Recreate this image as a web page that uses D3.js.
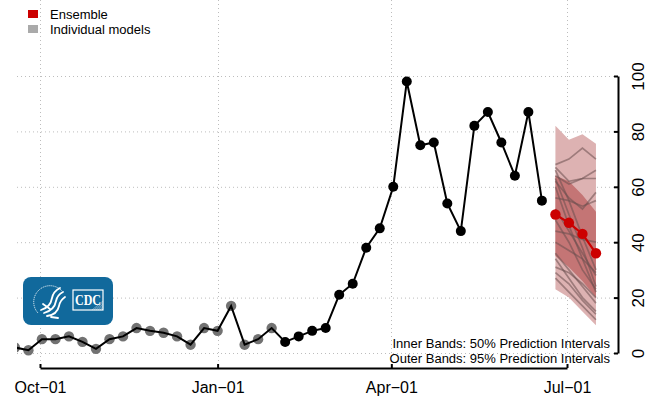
<!DOCTYPE html>
<html><head><meta charset="utf-8">
<script src="https://cdn.jsdelivr.net/npm/d3@7"></script>
<style>body{margin:0;background:#fff}svg{display:block;font-family:"Liberation Sans",Arial,sans-serif}</style>
</head><body><svg id="c" width="656" height="402"></svg>
<script>
// ---------- data ----------
const obsDates = ["2021-09-18","2021-09-25","2021-10-02","2021-10-09","2021-10-16","2021-10-23","2021-10-30",
 "2021-11-06","2021-11-13","2021-11-20","2021-11-27","2021-12-04","2021-12-11","2021-12-18","2021-12-25",
 "2022-01-01","2022-01-08","2022-01-15","2022-01-22","2022-01-29","2022-02-05","2022-02-12","2022-02-19","2022-02-26",
 "2022-03-05","2022-03-12","2022-03-19","2022-03-26","2022-04-02","2022-04-09","2022-04-16","2022-04-23","2022-04-30",
 "2022-05-07","2022-05-14","2022-05-21","2022-05-28","2022-06-04","2022-06-11","2022-06-18"];
const obsValues = [2,1,5,5,6,4,1.5,5,6,9,8,7.3,6,3,9,8,17,3,5,9,4,6,8,9,21,25,38,45,60,98,75,76,54,44,82,87,76,64,87,55];
const lastRevisedDate = "2022-01-29"; // points up to this date drawn grey

const fcDates = ["2022-06-25","2022-07-02","2022-07-09","2022-07-16"];
const ensemble = [50,47,43,36];
const q95lo = [23,20,15,10];
const q95hi = [82,77,79,75.5];
const q50lo = [35,31,26,20];
const q50hi = [64,62,57,51];
const models = [
 [68,70,74,70],[67,62,63,66],[64,61,63,63],[62,56,52,58],[56,55,53,55],
 [66,55,42,30],[63,50,38,24],[60,46,34,22],[52,44,36,28],[44,43,41,40],
 [40,37,34,29],[36,30,24,18],[31,29,25,20],[29,25,19,14],[27,22,17,12],
 [34,27,20,15],[48,40,30,23]
];
const xTickDates = ["2021-10-01","2022-01-01","2022-04-01","2022-07-01"];
const xTickLabels = ["Oct\u221201","Jan\u221201","Apr\u221201","Jul\u221201"];
const yTicks = [0,20,40,60,80,100];
const legendLabels = ["Ensemble","Individual models"];
const noteLines = ["Inner Bands: 50% Prediction Intervals","Outer Bands: 95% Prediction Intervals"];

// ---------- scales ----------
const P = d3.utcParse("%Y-%m-%d");
const svg = d3.select("#c");
const x = d3.scaleUtc().domain([P(xTickDates[0]), P(xTickDates[3])]).range([40, 567]);
const y = d3.scaleLinear().domain([0,100]).range([353, 76]);
const plotLeft = 17, plotRight = 617;

svg.append("defs").append("clipPath").attr("id","clip")
  .append("rect").attr("x",plotLeft).attr("y",0).attr("width",plotRight-plotLeft).attr("height",370);

// grid
const grid = svg.append("g").attr("stroke","#bdbdbd").attr("stroke-width",1).attr("stroke-dasharray","1,3");
grid.selectAll("line.h").data(yTicks).join("line")
  .attr("x1",plotLeft).attr("x2",plotRight).attr("y1",d=>y(d)+0.5).attr("y2",d=>y(d)+0.5);
grid.selectAll("line.v").data(xTickDates).join("line")
  .attr("x1",d=>Math.round(x(P(d)))+0.5).attr("x2",d=>Math.round(x(P(d)))+0.5).attr("y1",0).attr("y2",362);

// legend
const leg = svg.append("g");
const legColors = ["#cc0000","#aaaaaa"];
legendLabels.forEach((t,i)=>{
  leg.append("rect").attr("x",28).attr("y",10+i*15).attr("width",10).attr("height",8).attr("fill",legColors[i]);
  leg.append("text").attr("x",50).attr("y",19+i*15).attr("font-size",13).attr("fill","#000").text(t);
});

// CDC logo
const logo = svg.append("g");
logo.append("rect").attr("x",23).attr("y",277).attr("width",90).attr("height",48).attr("rx",8).attr("fill","#11699c");
logo.append("path").attr("d","M 38 313 A 14 14 0 1 1 62 291").attr("fill","none").attr("stroke","#fff")
  .attr("stroke-width",1).attr("stroke-dasharray","1.2,0.8").attr("opacity",0.85);
const eagle = logo.append("g").attr("fill","none").attr("stroke","#fff").attr("stroke-width",1.8).attr("stroke-linecap","round");
eagle.append("path").attr("d","M 41 310 C 48 308, 51 304, 52 298 C 53 293, 56 290, 60 288");
eagle.append("path").attr("d","M 44 313 C 51 311, 55 307, 56 301 C 57 296, 59 294, 63 292");
eagle.append("path").attr("d","M 47 316 C 54 315, 58 311, 59 306 C 60 301, 62 299, 65 297");
eagle.append("path").attr("d","M 43 304 L 50 309 M 51 317 L 58 318");
logo.append("rect").attr("x",73).attr("y",290).attr("width",30).attr("height",20).attr("fill","none").attr("stroke","#fff").attr("stroke-width",1.2);
const stripes = logo.append("g").attr("stroke","#fff").attr("stroke-width",0.5).attr("opacity",0.8);
[0,1,2,3,4,5].forEach(i=>stripes.append("line").attr("x1",92+i*2).attr("y1",310).attr("x2",103).attr("y2",301+i*1.6));
logo.append("text").attr("x",88).attr("y",305).attr("text-anchor","middle")
  .attr("font-family","'Liberation Serif','DejaVu Serif',serif").attr("font-weight","bold").attr("font-size",14)
  .attr("fill","#fff").attr("textLength",26).attr("lengthAdjust","spacingAndGlyphs").text("CDC");

// forecast bands
const fc = fcDates.map((d,i)=>({d:P(d),e:ensemble[i],lo95:q95lo[i],hi95:q95hi[i],lo50:q50lo[i],hi50:q50hi[i]}));
const plot = svg.append("g").attr("clip-path","url(#clip)");
plot.append("path").datum(fc).attr("fill","#ddb2b2")
  .attr("d",d3.area().x(d=>x(d.d)).y0(d=>y(d.lo95)).y1(d=>y(d.hi95)));
plot.append("path").datum(fc).attr("fill","#c47575")
  .attr("d",d3.area().x(d=>x(d.d)).y0(d=>y(d.lo50)).y1(d=>y(d.hi50)));
const ml = d3.line().x((d,i)=>x(P(fcDates[i]))).y(d=>y(d));
plot.selectAll("path.model").data(models).join("path").attr("class","model")
  .attr("fill","none").attr("stroke","#6a4e4e").attr("stroke-opacity",0.55).attr("stroke-width",1.7)
  .attr("d",ml);

// observed
const obs = obsDates.map((d,i)=>({d:P(d),v:obsValues[i],g:P(d)<=P(lastRevisedDate)}));
plot.selectAll("circle.g").data(obs.filter(o=>o.g)).join("circle")
  .attr("cx",d=>x(d.d)).attr("cy",d=>y(d.v)).attr("r",5.2).attr("fill","#727272");
plot.append("path").datum(obs).attr("fill","none").attr("stroke","#000").attr("stroke-width",2)
  .attr("d",d3.line().x(d=>x(d.d)).y(d=>y(d.v)));
plot.selectAll("circle.b").data(obs.filter(o=>!o.g)).join("circle")
  .attr("cx",d=>x(d.d)).attr("cy",d=>y(d.v)).attr("r",5).attr("fill","#000");

// ensemble
plot.append("path").datum(fc).attr("fill","none").attr("stroke","#cc0000").attr("stroke-width",2.2)
  .attr("d",d3.line().x(d=>x(d.d)).y(d=>y(d.e)));
plot.selectAll("circle.e").data(fc).join("circle")
  .attr("cx",d=>x(d.d)).attr("cy",d=>y(d.e)).attr("r",5.2).attr("fill","#cc0000");

// note text
noteLines.forEach((t,i)=>{
  svg.append("text").attr("x",610).attr("y",348+i*15).attr("text-anchor","end").attr("font-size",13).attr("fill","#000").text(t);
});

// axes
const xa = svg.append("g").attr("transform","translate(0,368)")
  .call(d3.axisBottom(x).tickValues(xTickDates.map(P)).tickFormat((d,i)=>xTickLabels[i]).tickSizeInner(-4).tickSizeOuter(0).tickPadding(0));
xa.select(".domain").attr("stroke-width",2);
xa.selectAll(".tick line").attr("stroke-width",2);
xa.selectAll("text").attr("font-size",16).attr("fill","#000").attr("y",25).attr("dy",0).attr("font-family","'Liberation Sans',Arial,sans-serif");

const ya = svg.append("g").attr("transform","translate(618,0)")
  .call(d3.axisRight(y).tickValues(yTicks).tickSizeInner(-4).tickSizeOuter(0));
ya.select(".domain").attr("stroke-width",2);
ya.selectAll(".tick line").attr("stroke-width",2);
ya.selectAll("text").attr("font-size",17).attr("fill","#000").attr("x",null).attr("dy","0.35em")
  .attr("text-anchor","middle").attr("transform","translate(20,0) rotate(-90)")
  .attr("font-family","'Liberation Sans',Arial,sans-serif");
</script></body></html>
